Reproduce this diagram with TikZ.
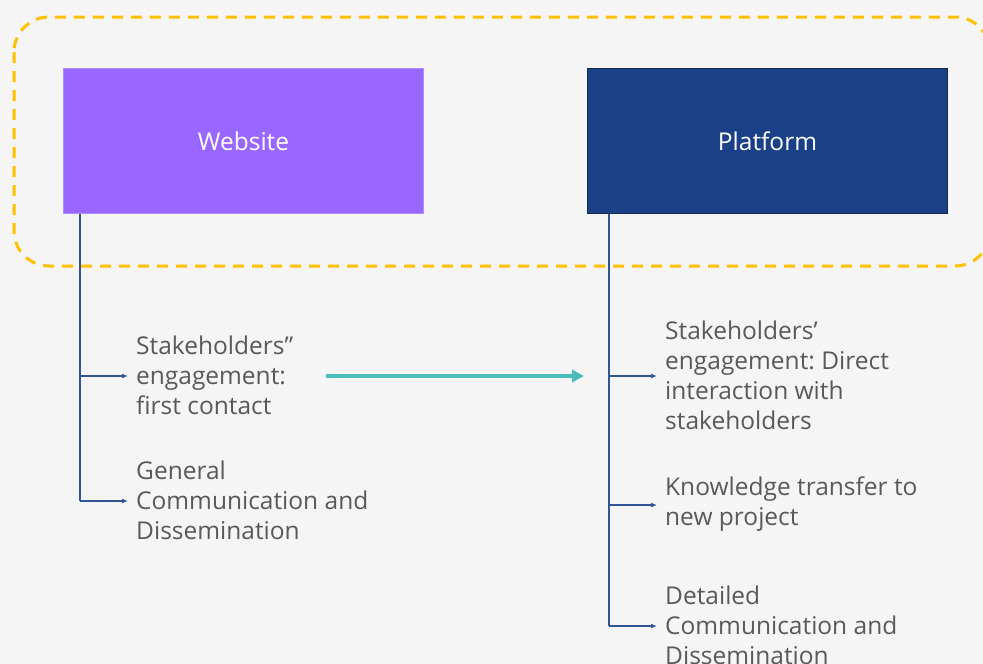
\documentclass[tikz,border=0pt]{standalone}
\usepackage{fontspec}
\setmainfont{Open Sans}
\frenchspacing
\usetikzlibrary{arrows.meta}

\definecolor{bgGrey}{HTML}{F5F5F5}
\definecolor{webPurple}{HTML}{9966FF}
\definecolor{webEdge}{HTML}{B18CFF}
\definecolor{platBlue}{HTML}{1A4187}
\definecolor{platEdge}{HTML}{14294F}
\definecolor{lineBlue}{HTML}{2F5597}
\definecolor{itemGrey}{HTML}{595959}
\definecolor{flowTeal}{HTML}{4BBCBC}
\definecolor{groupYellow}{HTML}{FFC000}

\begin{document}
\begin{tikzpicture}[x=1pt, y=-1pt,
		box/.style={anchor=north west, minimum width=360pt, minimum height=145pt, inner sep=0pt, line width=1pt, text=white, font=\fontsize{24.5}{30}\selectfont},
		item/.style={anchor=west, align=left, inner xsep=8pt, inner ysep=0pt, text=itemGrey, font=\fontsize{24.5}{30}\selectfont},
		trunk/.style={draw=lineBlue, line width=2pt},
		branch/.style={draw=lineBlue, line width=2pt, -{Latex[length=6pt, width=5pt]}},
		group/.style={draw=groupYellow, line width=3pt, dash pattern=on 11pt off 8pt, rounded corners=35pt}]
		\clip (0,0) rectangle (983,664);
		\fill[bgGrey] (0,0) rectangle (983,664);
		\draw[group] (14,17) rectangle (990,266);

		\node[box, fill=webPurple, draw=webEdge] (web) at (63,68) {Website};
		\node[box, fill=platBlue, draw=platEdge] (plat) at (587,68) {Platform};

		\foreach[count=\i] \ly/\ltext in {376/{Stakeholders”\\engagement:\\first contact}, 501/{General\\Communication and\\Dissemination}} {
			\coordinate (wt-\i) at (80,\ly);
			\node[item] (web-\i) at (128,\ly-1) {\ltext};
			\draw[branch] (wt-\i) -- (web-\i.west |- wt-\i);
		}
		\draw[trunk] (web.south -| wt-1) -- (wt-2);

		\foreach[count=\i] \ry/\rtext in {376/{Stakeholders’\\engagement: Direct\\interaction with\\stakeholders}, 505/{Knowledge transfer to\\new project}, 626/{Detailed\\Communication and\\Dissemination}} {
			\coordinate (pt-\i) at (609,\ry);
			\node[item] (plat-\i) at (657,\ry-1) {\rtext};
			\draw[branch] (pt-\i) -- (plat-\i.west |- pt-\i);
		}
		\draw[trunk] (plat.south -| pt-1) -- (pt-3);

		\coordinate (flow-a) at (326,376);
		\coordinate (flow-b) at (584,376);
		\draw[flowTeal, line width=4pt, -{Triangle[length=12pt, width=12pt]}] (flow-a) -- (flow-b);
	\end{tikzpicture}
\end{document}
